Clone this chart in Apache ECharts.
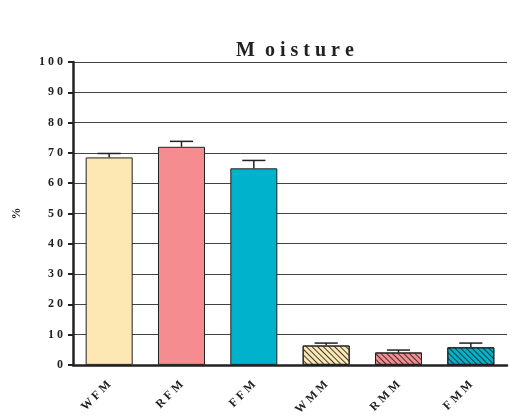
<!doctype html>
<html lang="en">
<head>
    <meta charset="UTF-8">
    <title>Moisture</title>
    <script src="https://cdn.jsdelivr.net/npm/echarts@6/dist/echarts.min.js"></script>
    <style>
        html, body { margin: 0; padding: 0; background: #fff; }
        #chart { width: 509px; height: 418px; }
    </style>
</head>
<body>
<div id="chart"></div>
<script type="text/javascript">
    // data
    var categories = ['W F M', 'R F M', 'F F M', 'W M M', 'R M M', 'F M M'];
    var values = [68.5, 72.0, 64.9, 6.4, 4.1, 5.8];
    var errors = [1.3, 1.8, 2.6, 0.8, 0.8, 1.4];
    var colors = ['#FDE7B3', '#F48C90', '#00B2CB', '#FDE7B3', '#F48C90', '#00B2CB'];
    var hatched = [false, false, false, true, true, true];
    var yTicks = ['0', '1 0', '2 0', '3 0', '4 0', '5 0', '6 0', '7 0', '8 0', '9 0', '1 0 0'];

    var serif = '"Liberation Serif", "DejaVu Serif", serif';

    var barData = values.map(function (v, i) {
        var style = { color: colors[i], borderColor: '#222', borderWidth: 1 };
        if (hatched[i]) {
            // 斜线填充
            style.decal = {
                symbol: 'rect',
                symbolSize: 1,
                color: 'rgba(40,40,40,0.9)',
                dashArrayX: [1, 0],
                dashArrayY: [1, 3],
                rotation: Math.PI / 4
            };
        }
        return { value: v, itemStyle: style };
    });

    var errData = values.map(function (v, i) {
        return [i, v, v + errors[i]];
    });

    var myChart = echarts.init(document.getElementById('chart'));
    var option = {
        animation: false,
        title: {
            text: 'M  o i s t u r e',
            left: 290,
            top: 36,
            textAlign: 'center',
            textStyle: { fontFamily: serif, fontWeight: 'bold', fontSize: 20, color: '#222' }
        },
        grid: { left: 73, right: 2, top: 62, bottom: 53 },
        xAxis: {
            type: 'category',
            data: categories,
            axisLine: { lineStyle: { color: '#222', width: 2.5 } },
            axisTick: { alignWithLabel: true, length: 6, lineStyle: { color: '#222', width: 2 } },
            axisLabel: {
                rotate: 45,
                margin: 18,
                fontFamily: serif,
                fontWeight: 'bold',
                fontSize: 12,
                color: '#222'
            }
        },
        yAxis: {
            type: 'value',
            min: 0,
            max: 100,
            interval: 10,
            name: '%',
            nameLocation: 'middle',
            nameGap: 50,
            nameRotate: 90,
            nameTextStyle: { fontFamily: serif, fontWeight: 'bold', fontSize: 12, color: '#222' },
            axisLine: { show: true, lineStyle: { color: '#222', width: 2.5 } },
            axisTick: { show: true, length: 5, lineStyle: { color: '#222', width: 2 } },
            splitLine: { lineStyle: { color: '#444', width: 1 } },
            axisLabel: {
                margin: 10,
                fontFamily: serif,
                fontWeight: 'bold',
                fontSize: 12,
                color: '#222',
                formatter: function (v) { return yTicks[v / 10]; }
            }
        },
        series: [
            {
                type: 'bar',
                data: barData,
                barWidth: '65%',
                z: 2
            },
            {
                type: 'custom',
                data: errData,
                z: 3,
                renderItem: function (params, api) {
                    var x = api.value(0);
                    var lo = api.coord([x, api.value(1)]);
                    var hi = api.coord([x, api.value(2)]);
                    var half = api.size([1, 0])[0] * 0.16;
                    var st = { stroke: '#222', lineWidth: 1.5 };
                    return {
                        type: 'group',
                        children: [
                            { type: 'line', shape: { x1: lo[0], y1: lo[1], x2: hi[0], y2: hi[1] }, style: st },
                            { type: 'line', shape: { x1: hi[0] - half, y1: hi[1], x2: hi[0] + half, y2: hi[1] }, style: st }
                        ]
                    };
                }
            }
        ]
    };
    myChart.setOption(option);
</script>
</body>
</html>
